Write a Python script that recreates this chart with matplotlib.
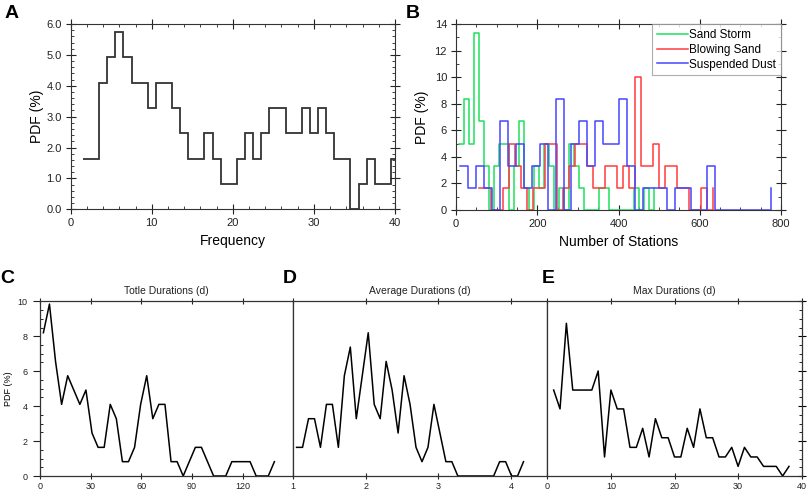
import numpy as np
import matplotlib.pyplot as plt
from matplotlib.ticker import MultipleLocator, FormatStrFormatter

plt.rcParams['font.family'] = ['Liberation Sans', 'DejaVu Sans']

# A: frequency histogram (bin centres and PDF)
freq_bins = np.arange(2, 41)
freq_pdf = [1.64, 1.64, 4.1, 4.92, 5.74, 4.92, 4.1, 4.1, 3.28, 4.1,
            4.1, 3.28, 2.46, 1.64, 1.64, 2.46, 1.64, 0.82, 0.82, 1.64,
            2.46, 1.64, 2.46, 3.28, 3.28, 2.46, 2.46, 3.28, 2.46, 3.28,
            2.46, 1.64, 1.64, 0.0, 0.82, 1.64, 0.82, 0.82, 1.64]

# B: number of stations, 40 bins per type (first bin start, bin width)
storm_start, storm_width = 7.4, 12.33
storm_pdf = [5, 8.33, 5, 13.33, 6.67, 3.33, 0, 3.33, 5, 5,
             0, 3.33, 6.67, 1.67, 0, 3.33, 1.67, 5, 3.33, 0,
             1.67, 0, 5, 3.33, 1.67, 0, 0, 0, 1.67, 1.67,
             0, 0, 0, 0, 0, 1.67, 0, 1.67, 0, 1.67]
blowing_start, blowing_width = 56.7, 14.75
blowing_pdf = [1.67, 1.67, 0, 0, 1.67, 5, 3.33, 1.67, 0, 1.67,
               1.67, 5, 5, 0, 1.67, 3.33, 5, 5, 3.33, 1.67,
               1.67, 3.33, 3.33, 1.67, 3.33, 1.67, 10, 3.33, 3.33, 5,
               1.67, 3.33, 3.33, 1.67, 1.67, 0, 0, 1.67, 0, 1.67]
dust_start, dust_width = 9.9, 19.6
dust_pdf = [3.33, 1.67, 3.33, 1.67, 0, 6.67, 3.33, 5, 1.67, 3.33,
            5, 0, 8.33, 0, 5, 6.67, 3.33, 6.67, 5, 5,
            8.33, 3.33, 0, 1.67, 1.67, 1.67, 0, 1.67, 1.67, 0,
            0, 3.33, 0, 0, 0, 0, 0, 0, 0, 1.67]

# C: totle durations
tot_start, tot_step = 2.0, 3.6
tot_pdf = [8.2, 9.84, 6.56, 4.1, 5.74, 4.92, 4.1, 4.92, 2.46, 1.64,
           1.64, 4.1, 3.28, 0.82, 0.82, 1.64, 4.1, 5.74, 3.28, 4.1,
           4.1, 0.82, 0.82, 0, 0.82, 1.64, 1.64, 0.82, 0, 0,
           0, 0.82, 0.82, 0.82, 0.82, 0, 0, 0, 0.82]

# D: average durations
avg_start, avg_step = 1.045, 0.0823
avg_pdf = [1.64, 1.64, 3.28, 3.28, 1.64, 4.1, 4.1, 1.64, 5.74, 7.38,
           3.28, 5.74, 8.2, 4.1, 3.28, 6.56, 4.92, 2.46, 5.74, 4.1,
           1.64, 0.82, 1.64, 4.1, 2.46, 0.82, 0.82, 0, 0, 0,
           0, 0, 0, 0, 0.82, 0.82, 0, 0, 0.82]

# E: max durations
max_days = np.arange(1, 39)
max_pdf = [4.92, 3.84, 8.74, 4.92, 4.92, 4.92, 4.92, 6.01, 1.09, 4.92,
           3.84, 3.84, 1.64, 1.64, 2.73, 1.09, 3.28, 2.19, 2.19, 1.09,
           1.09, 2.73, 1.64, 3.84, 2.19, 2.19, 1.09, 1.09, 1.64, 0.55,
           1.64, 1.09, 1.09, 0.55, 0.55, 0.55, 0, 0.55]

W, H = 809, 498
fig = plt.figure(figsize=(W / 100, H / 100), dpi=100)


def box(l, t, r, b):
    return [l / W, 1 - b / H, (r - l) / W, (b - t) / H]


def style(ax, lw=0.8):
    for s in ax.spines.values():
        s.set_linewidth(lw)
        s.set_color('#333333')


# ---- A
axA = fig.add_axes(box(70.7, 24, 395, 209.3))
edges = np.append(freq_bins - 0.5, freq_bins[-1] + 0.5)
axA.stairs(freq_pdf, edges, baseline=None, color='#333333', lw=1.3)
axA.set_xlim(0, 40)
axA.set_ylim(0, 6)
axA.set_xticks([0, 10, 20, 30, 40])
axA.set_yticks(np.arange(0, 7, 1.0))
axA.yaxis.set_major_formatter(FormatStrFormatter('%.1f'))
axA.xaxis.set_minor_locator(MultipleLocator(2))
axA.yaxis.set_minor_locator(MultipleLocator(0.2))
axA.set_xlabel('Frequency', fontsize=10, labelpad=4)
axA.set_ylabel('PDF (%)', fontsize=10, labelpad=2)

# ---- B
axB = fig.add_axes(box(456, 24, 781, 210))
series = [(storm_start, storm_width, storm_pdf, '#1ee05a', 'Sand Storm'),
          (blowing_start, blowing_width, blowing_pdf, '#ff3c3c', 'Blowing Sand'),
          (dust_start, dust_width, dust_pdf, '#4646ff', 'Suspended Dust')]
for x0, dx, pdf, col, lab in series:
    xs = x0 + dx * np.arange(len(pdf))
    axB.plot(xs, pdf, drawstyle='steps-post', color=col, lw=1.1, label=lab)
axB.set_xlim(0, 800)
axB.set_ylim(0, 14)
axB.set_xticks(np.arange(0, 801, 200))
axB.set_yticks(np.arange(0, 15, 2))
axB.xaxis.set_minor_locator(MultipleLocator(50))
axB.yaxis.set_minor_locator(MultipleLocator(1))
axB.set_xlabel('Number of Stations', fontsize=10, labelpad=4)
axB.set_ylabel('PDF (%)', fontsize=10, labelpad=4)
leg = axB.legend(loc='upper right', fontsize=8.5, frameon=True, fancybox=False,
                 borderaxespad=0, handlelength=2.6, handletextpad=0.15,
                 labelspacing=0.25, borderpad=0.4)
leg.get_frame().set_edgecolor('#999999')
leg.get_frame().set_linewidth(0.8)

for ax in (axA, axB):
    style(ax)
    ax.tick_params(which='both', top=True, right=True, labelsize=8,
                   colors='#222222')
    ax.tick_params(which='major', direction='inout', length=7, width=0.8, pad=3)
    ax.tick_params(which='minor', direction='in', length=2.5, width=0.6)

# ---- C, D, E
axC = fig.add_axes(box(40, 301.3, 293.3, 476))
axD = fig.add_axes(box(293.3, 301.3, 547.3, 476))
axE = fig.add_axes(box(547.3, 301.3, 801.7, 476))

axC.plot(tot_start + tot_step * np.arange(len(tot_pdf)), tot_pdf, color='black', lw=1.1)
axD.plot(avg_start + avg_step * np.arange(len(avg_pdf)), avg_pdf, color='black', lw=1.1)
axE.plot(max_days, max_pdf, color='black', lw=1.1)

axC.set_xlim(0, 150)
axC.set_xticks([0, 30, 60, 90, 120])
axD.set_xlim(1, 4.5)
axD.set_xticks([1, 2, 3, 4])
axE.set_xlim(0, 40)
axE.set_xticks([0, 10, 20, 30, 40])

titles = ['Totle Durations (d)', 'Average Durations (d)', 'Max Durations (d)']
for ax, t in zip((axC, axD, axE), titles):
    style(ax, 0.9)
    ax.set_ylim(0, 10)
    ax.set_yticks(np.arange(0, 11, 2))
    ax.yaxis.set_minor_locator(MultipleLocator(0.5))
    ax.set_title(t, fontsize=7.5, pad=5, color='#222222')
    ax.tick_params(axis='x', which='major', top=True, direction='inout',
                   length=5, width=0.8, labelsize=6.5, pad=1.5, colors='#222222')
    ax.tick_params(axis='y', which='both', left=False, right=False,
                   labelleft=False)

axC.tick_params(axis='y', which='major', left=True, labelleft=True,
                direction='out', length=5, width=0.8, labelsize=6.5, pad=4,
                colors='#222222')
axC.tick_params(axis='y', which='minor', left=True, direction='in',
                length=2, width=0.6)
axC.set_ylabel('PDF (%)', fontsize=6.5, labelpad=3)
axE.tick_params(axis='y', which='major', right=True, direction='inout',
                length=6, width=0.8)
axE.tick_params(axis='y', which='minor', right=True, direction='in',
                length=2, width=0.6)

# panel letters
for x, y, s in [(5, 5, 'A'), (406, 5, 'B'), (0, 270, 'C'), (283, 270, 'D'), (542, 270, 'E')]:
    fig.text(x / W, 1 - y / H, s, fontsize=14, fontweight='bold', ha='left', va='top')

fig.savefig('out.png', dpi=100)
